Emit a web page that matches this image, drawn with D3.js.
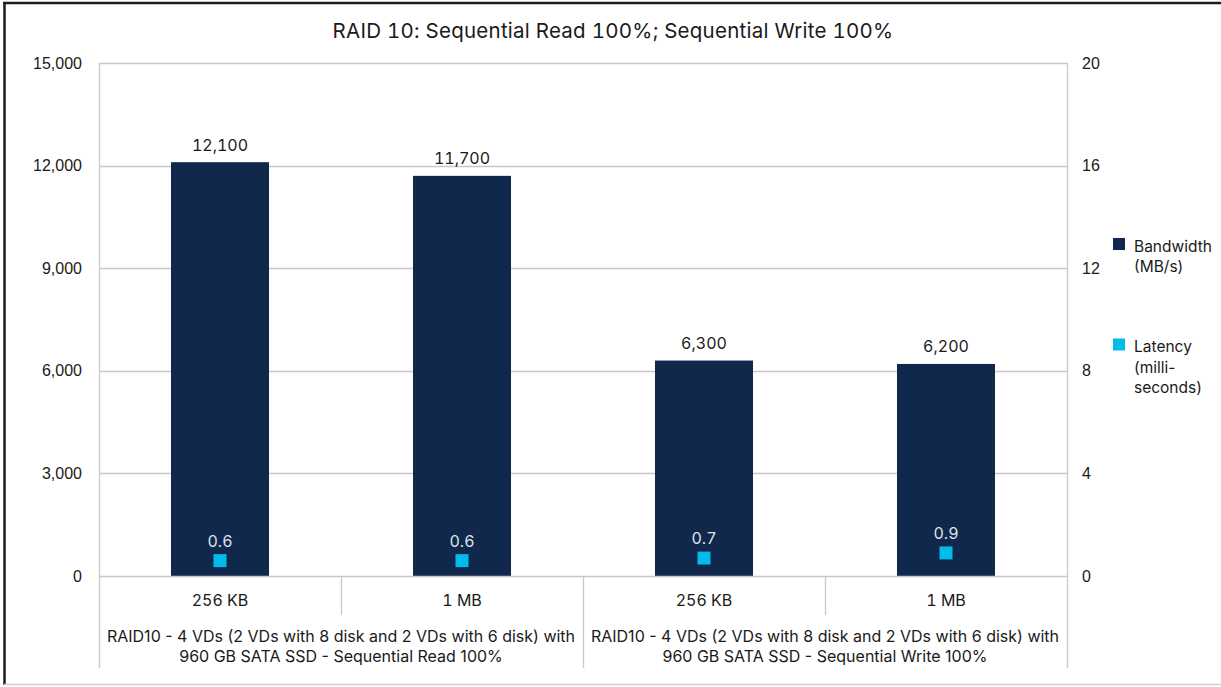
<!DOCTYPE html>
<html>
<head>
<meta charset="utf-8">
<script src="https://cdn.jsdelivr.net/npm/d3@7"></script>
<style>
  html, body { margin: 0; padding: 0; background: #fff; }
  svg { display: block; font-family: Inter, Roboto, "Noto Sans", sans-serif; }
  .num { font-feature-settings: "tnum"; }
</style>
</head>
<body>
<svg id="chart" width="1221" height="687"></svg>
<script>
// Chart data
const chartTitle = "RAID 10: Sequential Read 100%; Sequential Write 100%";
const blockSizes = ["256 KB", "1 MB", "256 KB", "1 MB"];
const groupOfBar = [0, 0, 1, 1];
const groupLabels = [
  ["RAID10 - 4 VDs (2 VDs with 8 disk and 2 VDs with 6 disk) with", "960 GB SATA SSD - Sequential Read 100%"],
  ["RAID10 - 4 VDs (2 VDs with 8 disk and 2 VDs with 6 disk) with", "960 GB SATA SSD - Sequential Write 100%"]
];
const bandwidthMBs = [12100, 11700, 6300, 6200];
const latencyMs = [0.6, 0.6, 0.7, 0.9];
const leftTicks = [0, 3000, 6000, 9000, 12000, 15000];
const rightTicks = [0, 4, 8, 12, 16, 20];
const legendItems = [
  { lines: ["Bandwidth", "(MB/s)"], color: "#10284b" },
  { lines: ["Latency", "(milli-", "seconds)"], color: "#00bceb" }
];

const BAR_COLOR = "#10284b";
const DOT_COLOR = "#00bceb";
const GRID = "#c8c8c8";
const TEXT = "#1a1a1a";
const FS = 16;

const svg = d3.select("#chart");
const plot = { left: 99, right: 1067, top: 63, bottom: 576 };

// Frame around the figure
svg.append("line").attr("x1", 3).attr("x2", 1221).attr("y1", 3).attr("y2", 3)
  .attr("stroke", "#1c1c1c").attr("stroke-width", 2.5);
svg.append("line").attr("x1", 4.5).attr("x2", 4.5).attr("y1", 2).attr("y2", 685)
  .attr("stroke", "#1c1c1c").attr("stroke-width", 2.5);
svg.append("line").attr("x1", 4).attr("x2", 1221).attr("y1", 684.5).attr("y2", 684.5)
  .attr("stroke", "#cfcfcf").attr("stroke-width", 1.5);

// Title
svg.append("text")
  .attr("class", "num")
  .attr("x", 613).attr("y", 38)
  .attr("text-anchor", "middle")
  .attr("font-size", 20.5)
  .attr("letter-spacing", 0.25)
  .attr("fill", TEXT)
  .text(chartTitle);

// Scales
const ids = blockSizes.map((_, i) => i);
const x = d3.scaleBand().domain(ids).range([plot.left, plot.right]).padding(0);
const yL = d3.scaleLinear().domain([0, 15000]).range([plot.bottom, plot.top]);
const yR = d3.scaleLinear().domain([0, 20]).range([plot.bottom, plot.top]);

// Horizontal gridlines
svg.append("g").selectAll("line")
  .data(leftTicks.filter(d => d > 0))
  .join("line")
  .attr("x1", plot.left).attr("x2", plot.right)
  .attr("y1", d => Math.round(yL(d)) + 0.5).attr("y2", d => Math.round(yL(d)) + 0.5)
  .attr("stroke", GRID).attr("stroke-width", 1.3);

// Left axis labels
const leftAxis = svg.append("g")
  .attr("class", "num")
  .attr("transform", `translate(${plot.left},0)`)
  .call(d3.axisLeft(yL).tickValues(leftTicks).tickFormat(d3.format(",")).tickSize(0).tickPadding(17));
leftAxis.select(".domain").remove();
leftAxis.selectAll("text").attr("font-size", FS).attr("fill", TEXT).attr("font-family", null);

// Right axis labels
const rightAxis = svg.append("g")
  .attr("class", "num")
  .attr("transform", `translate(${plot.right},0)`)
  .call(d3.axisRight(yR).tickValues(rightTicks).tickFormat(d3.format("d")).tickSize(0).tickPadding(15));
rightAxis.select(".domain").remove();
rightAxis.selectAll("text").attr("font-size", FS).attr("fill", TEXT).attr("font-family", null);

// Vertical frame lines of the plot, extended through the category rows
svg.append("line").attr("x1", plot.left + 0.5).attr("x2", plot.left + 0.5)
  .attr("y1", plot.top).attr("y2", 668).attr("stroke", GRID).attr("stroke-width", 1.3);
svg.append("line").attr("x1", plot.right + 0.5).attr("x2", plot.right + 0.5)
  .attr("y1", plot.top).attr("y2", 668).attr("stroke", GRID).attr("stroke-width", 1.3);

// Bars
const barW = x.bandwidth() * 0.405;
svg.append("g").selectAll("rect")
  .data(bandwidthMBs)
  .join("rect")
  .attr("x", (d, i) => x(i) + x.bandwidth() / 2 - barW / 2)
  .attr("y", d => yL(d))
  .attr("width", barW)
  .attr("height", d => yL(0) - yL(d))
  .attr("fill", BAR_COLOR);

// Bar value labels
svg.append("g").attr("class", "num").selectAll("text")
  .data(bandwidthMBs)
  .join("text")
  .attr("x", (d, i) => x(i) + x.bandwidth() / 2)
  .attr("y", d => yL(d) - 11.5)
  .attr("text-anchor", "middle")
  .attr("font-size", FS)
  .attr("fill", TEXT)
  .text(d => d3.format(",")(d));

// Baseline (category axis)
svg.append("line").attr("x1", plot.left).attr("x2", plot.right)
  .attr("y1", plot.bottom + 0.5).attr("y2", plot.bottom + 0.5)
  .attr("stroke", GRID).attr("stroke-width", 1.3);

// Latency markers
const mk = 13;
svg.append("g").selectAll("rect")
  .data(latencyMs)
  .join("rect")
  .attr("x", (d, i) => x(i) + x.bandwidth() / 2 - mk / 2)
  .attr("y", d => yR(d) - mk / 2)
  .attr("width", mk).attr("height", mk)
  .attr("fill", DOT_COLOR);

svg.append("g").attr("class", "num").selectAll("text")
  .data(latencyMs)
  .join("text")
  .attr("x", (d, i) => x(i) + x.bandwidth() / 2)
  .attr("y", d => yR(d) - 14)
  .attr("text-anchor", "middle")
  .attr("font-size", FS)
  .attr("fill", "#dde2ea")
  .text(d => d3.format(".1f")(d));

// Category labels (block sizes)
svg.append("g").attr("class", "num").selectAll("text")
  .data(blockSizes)
  .join("text")
  .attr("x", (d, i) => x(i) + x.bandwidth() / 2)
  .attr("y", 605.5)
  .attr("text-anchor", "middle")
  .attr("font-size", FS)
  .attr("fill", TEXT)
  .text(d => d);

// Dividers between block sizes within a group, and between groups
ids.slice(1).forEach(i => {
  const gx = Math.round(x(i)) + 0.5;
  const between = groupOfBar[i] !== groupOfBar[i - 1];
  svg.append("line").attr("x1", gx).attr("x2", gx)
    .attr("y1", plot.bottom).attr("y2", between ? 668 : 615)
    .attr("stroke", GRID).attr("stroke-width", 1.3);
});

// Group labels
groupLabels.forEach((lines, g) => {
  const members = ids.filter(i => groupOfBar[i] === g);
  const x0 = x(members[0]);
  const x1 = x(members[members.length - 1]) + x.bandwidth();
  const t = svg.append("text")
    .attr("text-anchor", "middle")
    .attr("font-size", FS)
    .attr("fill", TEXT);
  lines.forEach((ln, k) => {
    t.append("tspan").attr("x", (x0 + x1) / 2).attr("y", 641.7 + k * 20).text(ln);
  });
});

// Legend
legendItems.forEach((item, k) => {
  const top = 238 + k * 100.5;
  svg.append("rect").attr("x", 1113).attr("y", top).attr("width", 12).attr("height", 12)
    .attr("fill", item.color);
  const t = svg.append("text").attr("font-size", 15.5).attr("fill", TEXT);
  item.lines.forEach((ln, j) => {
    t.append("tspan").attr("x", 1134).attr("y", top + 13.5 + j * 20.5).text(ln);
  });
});
</script>
</body>
</html>
